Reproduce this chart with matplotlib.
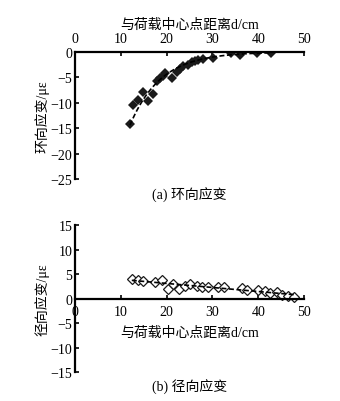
import matplotlib.pyplot as plt
import numpy as np

plt.rcParams['font.family'] = ['Liberation Serif', 'Noto Sans CJK SC']
plt.rcParams['font.size'] = 10

# (a) hoop strain, filled diamonds
hoop_d = [12.0, 12.7, 13.8, 14.9, 16.0, 17.1, 17.8, 18.6, 19.2, 19.7, 21.1,
          22.2, 22.9, 23.5, 24.7, 25.5, 26.2, 26.8, 28.0, 30.2, 34.0, 36.0,
          39.8, 42.9]
hoop_e = [-14.2, -10.4, -9.4, -7.9, -9.6, -8.2, -5.7, -5.2, -4.7, -4.1, -5.2,
          -3.9, -3.3, -2.7, -2.6, -2.0, -1.7, -1.5, -1.4, -1.1, -0.2, -0.5,
          -0.2, -0.2]

# (b) radial strain, open diamonds
rad_d = [12.4, 13.8, 14.9, 17.5, 18.9, 20.4, 21.5, 22.7, 24.0, 25.1, 26.6,
         27.7, 29.1, 31.3, 32.5, 36.4, 37.6, 40.0, 41.5, 42.6, 44.0, 45.1,
         46.6, 47.9]
rad_e = [4.0, 3.8, 3.5, 3.3, 3.7, 2.0, 2.9, 2.0, 2.5, 2.9, 2.5,
         2.4, 2.4, 2.4, 2.4, 2.2, 1.7, 1.7, 1.5, 1.2, 1.4, 0.8,
         0.6, 0.3]

xlabel = '与荷载中心点距离d/cm'

fig = plt.figure(figsize=(3.4, 4.02), dpi=100)

# top panel
ax1 = fig.add_axes([0.2206, 0.552, 0.6735, 0.316])
ax1.plot(hoop_d, hoop_e, 'D', color='#1a1a1a', ms=5.5, mew=0)
# exponential trend line
k, b = np.polyfit(hoop_d, np.log(-np.array(hoop_e)), 1)
xt = np.linspace(min(hoop_d), max(hoop_d), 100)
ax1.plot(xt, -np.exp(b + k * xt), '--', color='black', lw=1.2, dashes=(3, 1.5))
ax1.set_xlim(0, 50)
ax1.set_ylim(-25, 0)
ax1.set_xticks(range(0, 51, 10))
ax1.set_yticks(range(-25, 1, 5))
ax1.xaxis.tick_top()
ax1.xaxis.set_label_position('top')
ax1.set_xlabel(xlabel, labelpad=3)
ax1.set_ylabel('环向应变/με', labelpad=1)
for s in ['right', 'bottom']:
    ax1.spines[s].set_visible(False)
for s in ['left', 'top']:
    ax1.spines[s].set_linewidth(1.6)
ax1.tick_params(direction='in', length=3, width=1.2, pad=2)
ax1.tick_params(axis='x', pad=5)
ax1.text(0.5, -0.12, '(a) 环向应变', transform=ax1.transAxes,
         ha='center', va='center')

# bottom panel
ax2 = fig.add_axes([0.2206, 0.0721, 0.6735, 0.3657])
ax2.plot(rad_d, rad_e, 'D', mfc='white', mec='#1a1a1a', ms=5.5, mew=0.9)
m, c = np.polyfit(rad_d, rad_e, 1)
xr = np.linspace(min(rad_d), max(rad_d), 50)
ax2.plot(xr, m * xr + c, '--', color='black', lw=1.2, dashes=(3, 1.5))
ax2.set_xlim(0, 50)
ax2.set_ylim(-15, 15)
ax2.set_xticks(range(0, 51, 10))
ax2.set_yticks(range(-15, 16, 5))
ax2.spines['bottom'].set_position(('data', 0))
for s in ['right', 'top']:
    ax2.spines[s].set_visible(False)
for s in ['left', 'bottom']:
    ax2.spines[s].set_linewidth(1.6)
ax2.tick_params(direction='in', length=3, width=1.2, pad=2)
ax2.tick_params(axis='x', pad=5)
ax2.set_ylabel('径向应变/με', labelpad=1)
ax2.text(0.5, 0.27, xlabel, transform=ax2.transAxes, ha='center', va='center')
ax2.text(0.5, -0.1, '(b) 径向应变', transform=ax2.transAxes,
         ha='center', va='center')

fig.savefig('out.png', dpi=100)
